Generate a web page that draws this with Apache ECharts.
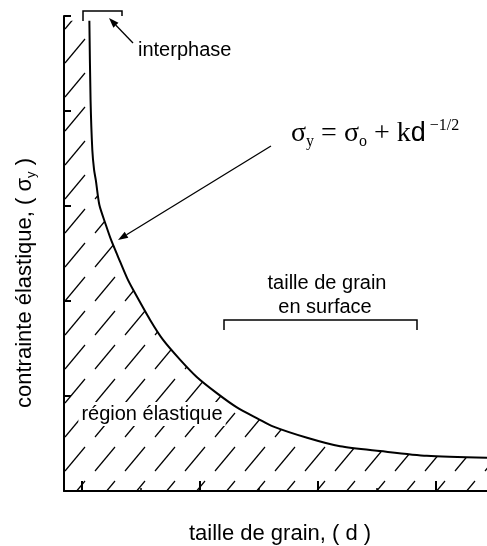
<!DOCTYPE html>
<html><head><meta charset="utf-8">
<script src="https://cdn.jsdelivr.net/npm/echarts@6/dist/echarts.min.js"></script>
<style>html,body{margin:0;padding:0;background:#fff}#c{width:487px;height:546px}</style>
</head><body><div id="c"></div>
<script>
// grain size d (axis units) and yield stress sigma_y (axis units)
const grainSize   = [0.43,0.45,0.48,0.51,0.54,0.60,0.71,0.80,0.92,1.07,1.17,1.46,1.68,1.97,2.25,2.59,2.93,3.29,3.54,4.12,4.68,5.36,6.15,7.17];
const yieldStress = [4.95,4.12,3.59,3.38,3.27,3.01,2.80,2.64,2.46,2.24,2.12,1.80,1.59,1.38,1.20,1.03,0.88,0.76,0.68,0.56,0.47,0.42,0.37,0.35];
const xMajorTicks = [0.3,2.3,4.3,6.3];
const xMinorTicks = [1.3,3.3,5.3];
const xMax = 7.17;
const yMax = 5;

const curve = grainSize.map((d,i)=>[d, yieldStress[i]]);
const areaData = [[0, yieldStress[0]]].concat(curve);

function hatchTile(){
  const c=document.createElement('canvas');
  const W=30,H=34; c.width=W; c.height=H;
  const g=c.getContext('2d');
  g.strokeStyle='#000'; g.lineWidth=1.2; g.lineCap='butt';
  g.beginPath(); g.moveTo(5,H-5); g.lineTo(W-5,5); g.stroke();
  return c;
}
function arrow(x1,y1,x2,y2){
  const a=Math.atan2(y2-y1,x2-x1), L=10, w=3.5;
  const bx=x2-L*Math.cos(a), by=y2-L*Math.sin(a);
  const px=-Math.sin(a)*w, py=Math.cos(a)*w;
  return [
    {type:'line',shape:{x1:x1,y1:y1,x2:bx,y2:by},style:{stroke:'#000',lineWidth:1.3}},
    {type:'polygon',shape:{points:[[x2,y2],[bx+px,by+py],[bx-px,by-py]]},style:{fill:'#000'}}
  ];
}
const SANS='"Liberation Sans", Arial, Helvetica, sans-serif';
const SERIF='"Liberation Serif", "Times New Roman", serif';

const chart=echarts.init(document.getElementById('c'),null,{renderer:'canvas'});
chart.setOption({
  animation:false,
  backgroundColor:'#fff',
  grid:{left:64,right:0,top:16,bottom:55},
  xAxis:[{
    type:'value',min:0,max:xMax,
    axisLine:{show:true,lineStyle:{color:'#000',width:2}},
    axisTick:{show:true,inside:true,length:10,customValues:xMajorTicks,lineStyle:{color:'#000',width:2}},
    axisLabel:{show:false},splitLine:{show:false}
  },{
    type:'value',min:0,max:xMax,position:'bottom',offset:0,
    axisLine:{show:false},
    axisTick:{show:true,inside:true,length:3,customValues:xMinorTicks,lineStyle:{color:'#000',width:1.5}},
    axisLabel:{show:false},splitLine:{show:false}
  }],
  yAxis:{
    type:'value',min:0,max:yMax,interval:1,
    axisLine:{show:true,lineStyle:{color:'#000',width:2}},
    axisTick:{show:true,inside:true,length:7,lineStyle:{color:'#000',width:2}},
    axisLabel:{show:false},splitLine:{show:false}
  },
  series:[{
    type:'line',data:areaData,showSymbol:false,symbol:'none',smooth:0.25,
    lineStyle:{width:0,opacity:0},
    areaStyle:{color:{image:hatchTile(),repeat:'repeat'},opacity:1},
    z:1,silent:true
  },{
    type:'line',data:curve,showSymbol:false,symbol:'none',smooth:0.25,
    lineStyle:{color:'#000',width:2},z:3
  }],
  graphic:[
    {type:'polyline',shape:{points:[[83,21],[83,11],[122,11],[122,16]]},style:{stroke:'#000',lineWidth:1.5,fill:null}},
    ...arrow(133,43,109,18),
    {type:'text',x:138,y:50,style:{text:'interphase',font:'20px '+SANS,fill:'#000',textAlign:'left',textVerticalAlign:'middle'}},
    ...arrow(271,146,118,240),
    {type:'text',x:291,y:134,style:{
      text:'{s|σ}{sb|y}{s| = σ}{sb|o}{s| + k}{d|d}{sp| −1/2}',
      textAlign:'left',textVerticalAlign:'middle',
      rich:{
        s:{fontFamily:SERIF,fontSize:28,lineHeight:32,color:'#000'},
        d:{fontFamily:SANS,fontSize:27,lineHeight:32,color:'#000'},
        sb:{fontFamily:SERIF,fontSize:16,lineHeight:12,verticalAlign:'bottom',color:'#000'},
        sp:{fontFamily:SERIF,fontSize:16,lineHeight:12,verticalAlign:'top',color:'#000'}
      }}},
    {type:'text',x:327,y:283,style:{text:'taille de grain',font:'20px '+SANS,fill:'#000',textAlign:'center',textVerticalAlign:'middle'}},
    {type:'text',x:325,y:307,style:{text:'en surface',font:'20px '+SANS,fill:'#000',textAlign:'center',textVerticalAlign:'middle'}},
    {type:'polyline',shape:{points:[[224,330],[224,320],[417,320],[417,330]]},style:{stroke:'#000',lineWidth:1.5,fill:null}},
    {type:'text',x:152,y:414,z:10,style:{text:'région élastique',font:'20px '+SANS,fill:'#000',textAlign:'center',textVerticalAlign:'middle',backgroundColor:'#fff',padding:[2,3]}},
    {type:'text',x:280,y:534,style:{text:'taille de grain, ( d )',font:'22px '+SANS,fill:'#000',textAlign:'center',textVerticalAlign:'middle'}},
    {type:'text',x:25,y:283,rotation:Math.PI/2,style:{
      text:'{t|contrainte élastique, ( σ}{sb|y}{t| )}',
      textAlign:'center',textVerticalAlign:'middle',
      rich:{
        t:{fontFamily:SANS,fontSize:22,lineHeight:26,color:'#000'},
        sb:{fontFamily:SANS,fontSize:13,lineHeight:10,verticalAlign:'bottom',color:'#000'}
      }}}
  ]
});
</script></body></html>
